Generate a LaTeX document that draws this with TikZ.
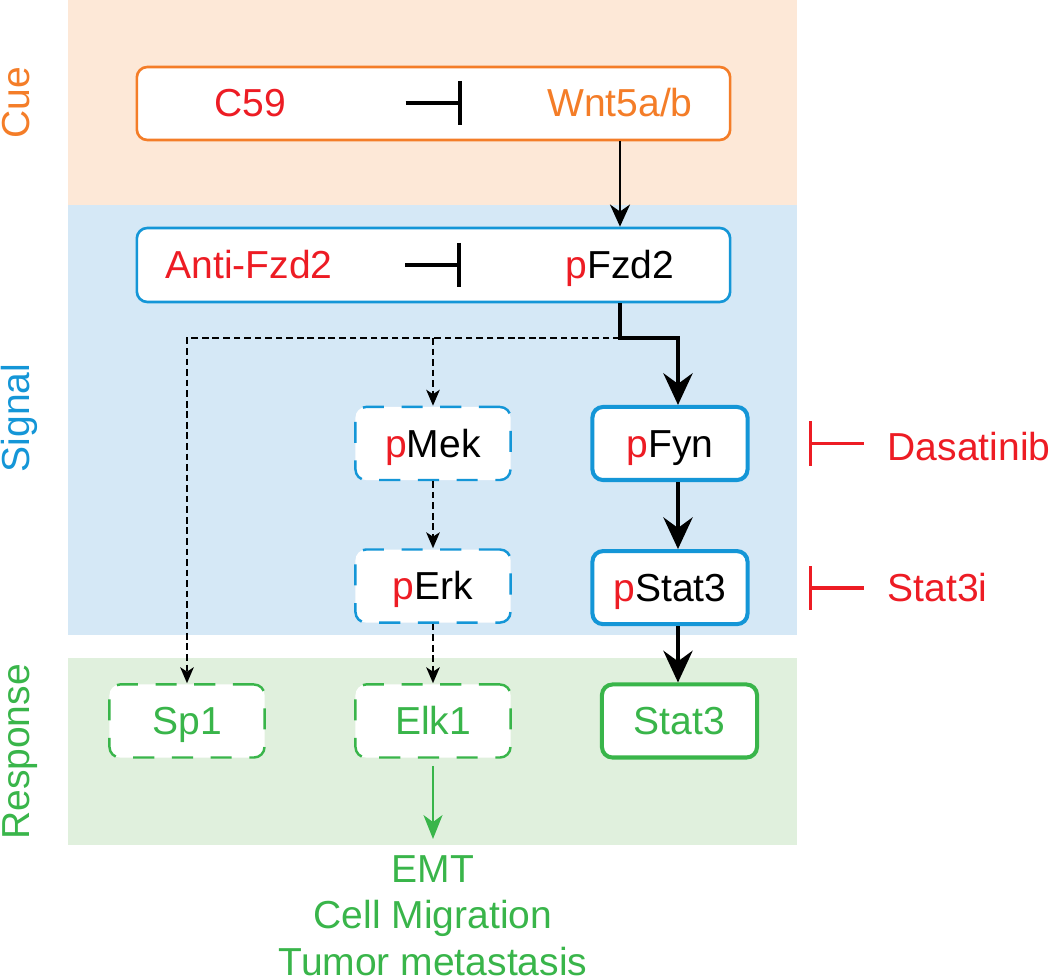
\documentclass[tikz,border=0pt]{standalone}
\usepackage{fontspec}
\setmainfont{Liberation Sans}
\usetikzlibrary{arrows.meta,positioning}
\definecolor{cred}{RGB}{237,28,36}
\definecolor{corange}{RGB}{244,125,40}
\definecolor{cblue}{RGB}{20,150,215}
\definecolor{cgreen}{RGB}{57,181,74}
\definecolor{cuebg}{RGB}{253,232,215}
\definecolor{sigbg}{RGB}{213,232,246}
\definecolor{resbg}{RGB}{224,240,221}
\newcommand{\ph}{{\color{cred}p}}

\begin{document}
\begin{tikzpicture}
        [x=0.01cm, y=-0.01cm, font=\fontsize{11.1}{13.2}\selectfont,
         box/.style={draw, fill=white, rounded corners=3pt, minimum width=1.55cm,
                     minimum height=0.73cm, inner sep=0pt, text height=7.9pt, text depth=0pt},
         wide/.style={box, line width=0.75pt, minimum width=5.93cm},
         soft/.style={box, line width=0.7pt, dash pattern=on 6pt off 5pt},
         firm/.style={box, line width=1.15pt},
         lbl/.style={inner sep=0pt, text height=7.9pt, text depth=0pt},
         side/.style={rotate=90, anchor=base, inner sep=0pt},
         inh/.style={line width=1pt, -{Bar[width=0.44cm, length=1pt]}},
         flow/.style={line width=0.6pt, -{Stealth[length=6.3pt, width=5.7pt, inset=2pt]}},
         main/.style={line width=1.15pt, -{Stealth[length=9pt, width=8.3pt, inset=3pt]}},
         weak/.style={line width=0.75pt, dash pattern=on 1.9pt off 1.1pt,
                      -{Stealth[length=4.5pt, width=3.8pt, inset=1.2pt]}},
         yield/.style={cgreen, line width=0.55pt, -{Stealth[length=6.8pt, width=5.4pt, inset=2pt]}}]

        \useasboundingbox (0,0) rectangle (1050,979);

        % background bands
        \fill[cuebg] (68,0) rectangle (797,205);
        \fill[sigbg] (68,205) rectangle (797,635);
        \fill[resbg] (68,658) rectangle (797,845);

        \node [side, text=corange] (cue) at (30,103) {Cue};
        \node [side, text=cblue]   (sig) at (30,418) {Signal};
        \node [side, text=cgreen]  (res) at (30,752) {Response};

        % cue and receptor
        \node [wide, draw=corange]                   (b1)   at (433.5,103.5) {};
        \node [lbl, text=cred]                       (c59)  at (250,103) {C59};
        \node [lbl, text=corange]                    (wnt)  at (620,103) {Wnt5a/b};
        \node [wide, draw=cblue, minimum height=0.74cm] (b2) at (433.5,265) {};
        \node [lbl, text=cred]                       (anti) at (249,265) {Anti-Fzd2};
        \node [lbl]                                  (fzd)  at (620,265) {\ph Fzd2};

        % signal
        \node [soft, draw=cblue] (mek)  at (433,443.5) {\ph Mek};
        \node [soft, draw=cblue] (erk)  [below=0.67cm of mek] {\ph Erk};
        \node [firm, draw=cblue] (fyn)  at (670,443.5) {\ph Fyn};
        \node [firm, draw=cblue] (stat) [below=0.67cm of fyn] {\ph Stat3};

        \node [lbl, text=cred, anchor=west] (das) at (887,447) {Dasatinib};
        \node [lbl, text=cred, anchor=west] (s3i) at (887,588) {Stat3i};

        % response
        \node [soft, draw=cgreen, text=cgreen] (sp)  at (187,721)   {Sp1};
        \node [soft, draw=cgreen, text=cgreen] (elk) at (433,721)   {Elk1};
        \node [firm, draw=cgreen, text=cgreen] (stt) at (679.5,721) {Stat3};

        \node [inner sep=0pt, align=center, text=cgreen, anchor=north] (emt) at (433,855)
              {EMT\\Cell Migration\\Tumor metastasis};

        \coordinate (j) at (620,338);
        \coordinate (k) at (678,338);

        \draw[inh, shorten <=1.19cm, shorten >=0.85cm] (c59) -- (wnt);
        \draw[inh, shorten <=0.72cm, shorten >=1.04cm] (anti) -- (fzd);
        \draw[flow] (b1.south -| wnt) -- (b2.north -| wnt);

        \draw[weak] (j) -| (sp.north);
        \draw[weak] (j -| mek) -- (mek.north);
        \draw[weak] (mek) -- (erk);
        \draw[weak] (erk) -- (elk);

        \draw[main] (b2.south -| j) -- (j) -- (k) -- (fyn.north -| k);
        \draw[main] (fyn.south -| k) -- (stat.north -| k);
        \draw[main] (stat.south -| k) -- (stt.north -| k);

        \draw[inh, cred, line width=1.1pt, shorten <=0.23cm, shorten >=0.59cm] (das.west |- fyn) -- (fyn.east);
        \draw[inh, cred, line width=1.1pt, shorten <=0.23cm, shorten >=0.59cm] (s3i.west |- stat) -- (stat.east);

        \draw[yield, shorten <=0.07cm, shorten >=0.16cm] (elk) -- (emt);
\end{tikzpicture}
\end{document}
